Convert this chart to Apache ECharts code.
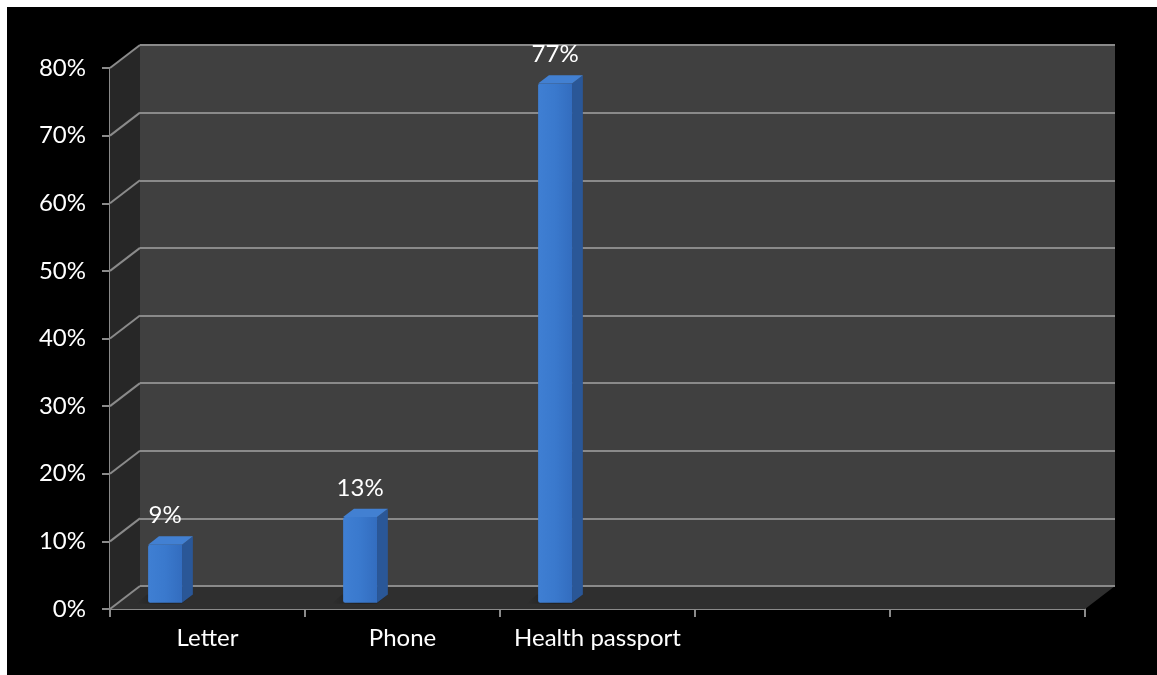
<!DOCTYPE html>
<html><head><meta charset="utf-8">
<script src="https://cdn.jsdelivr.net/npm/echarts@6/dist/echarts.min.js"></script>
<style>html,body{margin:0;padding:0;background:#000;overflow:hidden;}#c{position:absolute;left:0;top:0;width:1157px;height:675px;box-sizing:border-box;border-left:7px solid #fff;border-top:7px solid #fff;background:#000;}</style>
</head><body><div id="c"></div><script>
// ---- data ----
const categories = ['Letter', 'Phone', 'Health passport', '', ''];
const values = [0.086, 0.127, 0.768];
const yTicks = [0, 0.1, 0.2, 0.3, 0.4, 0.5, 0.6, 0.7, 0.8];

// ---- style constants ----
const DX = 30, DY = -23;          // depth offset of back wall
const GRID = '#8a8a8a';
const FONT = 'Lato';
const chart = echarts.init(document.getElementById('c'), null, {renderer: 'canvas'});

function pct(v) { return Math.round(v * 100) + '%'; }

function renderWalls(params, api) {
  const bw = api.size([1, 0])[0];
  const left = api.coord([0, 0])[0] - bw / 2;
  const right = api.coord([categories.length - 1, 0])[0] + bw / 2;
  const y0 = api.coord([0, 0])[1];
  const yTop = api.coord([0, yTicks[yTicks.length - 1]])[1];
  const children = [];
  children.push({type: 'polygon', shape: {points: [[left, yTop], [left + DX, yTop + DY], [left + DX, y0 + DY], [left, y0]]},
    style: {fill: '#272727'}});
  children.push({type: 'polygon', shape: {points: [[left, y0], [right, y0], [right + DX, y0 + DY], [left + DX, y0 + DY]]},
    style: {fill: '#2f2f2f'}});
  children.push({type: 'line', shape: {x1: left + DX, y1: y0 + DY, x2: right + DX, y2: y0 + DY}, style: {stroke: GRID, lineWidth: 2}});
  yTicks.forEach(function (t) {
    const y = api.coord([0, t])[1];
    children.push({type: 'line', shape: {x1: left, y1: y, x2: left + DX, y2: y + DY}, style: {stroke: GRID, lineWidth: 2}});
  });
  return {type: 'group', children: children};
}

function renderBar(params, api) {
  const i = api.value(0), v = api.value(1);
  const bw = api.size([1, 0])[0];
  const c0 = api.coord([i, 0]);
  const c1 = api.coord([i, v]);
  const f0 = 0.27, depth = 0.36;
  const x0 = c0[0] - bw / 2 + 0.154 * bw + f0 * DX;
  const w = 0.174 * bw;
  const yb = c0[1] + f0 * DY;
  const yt = c1[1] + f0 * DY;
  const ddx = depth * DX, ddy = depth * DY;
  return {type: 'group', children: [
    {type: 'polygon', shape: {points: [[x0 - 12, yb + 1], [x0 + w, yb + 1], [x0 + w + ddx, yb + ddy], [x0 - 12 + ddx, yb + ddy]]},
      style: {fill: new echarts.graphic.LinearGradient(0, 0, 1, 0, [{offset: 0, color: 'rgba(0,0,0,0)'}, {offset: 0.5, color: 'rgba(0,0,0,0.35)'}, {offset: 1, color: 'rgba(0,0,0,0.1)'}])}},
    {type: 'polygon', shape: {points: [[x0 + w, yt], [x0 + w + ddx, yt + ddy], [x0 + w + ddx, yb + ddy], [x0 + w, yb]]},
      style: {fill: '#2a5797'}},
    {type: 'polygon', shape: {points: [[x0, yt], [x0 + ddx, yt + ddy], [x0 + w + ddx, yt + ddy], [x0 + w, yt]]},
      style: {fill: '#4280d2'}},
    {type: 'rect', shape: {x: x0, y: yt, width: w, height: yb - yt, r: [2, 0, 0, 2]},
      style: {fill: new echarts.graphic.LinearGradient(0, 0, 1, 0, [
        {offset: 0, color: '#3f7fd3'}, {offset: 0.5, color: '#3a79cd'}, {offset: 1, color: '#336dbf'}])}},
    {type: 'text', x: x0 + w / 2, y: yt - 29,
      style: {text: pct(v), fill: '#fff', font: '24px ' + FONT, align: 'center', verticalAlign: 'middle'}}
  ]};
}

const option = {
  backgroundColor: '#000',
  animation: false,
  grid: [
    {left: 103, right: 72, top: 61, bottom: 66, containLabel: false},
    {left: 103 + DX, right: 72 - DX, top: 61 + DY, bottom: 66 - DY, show: true, backgroundColor: '#404040', borderWidth: 0}
  ],
  xAxis: [
    {type: 'category', gridIndex: 0, data: categories, boundaryGap: true,
      axisLine: {show: true, lineStyle: {color: GRID, width: 2}},
      axisTick: {show: true, length: 8, alignWithLabel: false, lineStyle: {color: GRID, width: 2}},
      axisLabel: {color: '#fff', fontFamily: FONT, fontSize: 24, margin: 17, interval: 0}},
    {type: 'category', gridIndex: 1, data: categories, show: false}
  ],
  yAxis: [
    {type: 'value', gridIndex: 0, min: 0, max: 0.8, interval: 0.1,
      axisLine: {show: true, lineStyle: {color: GRID, width: 2}},
      axisTick: {show: true, length: 8, lineStyle: {color: GRID, width: 2}},
      axisLabel: {color: '#fff', fontFamily: FONT, fontSize: 24, margin: 24, formatter: pct},
      splitLine: {show: false}},
    {type: 'value', gridIndex: 1, min: 0, max: 0.8, interval: 0.1,
      axisLine: {show: false}, axisTick: {show: false}, axisLabel: {show: false},
      splitLine: {show: true, lineStyle: {color: GRID, width: 2}}}
  ],
  series: [
    {type: 'custom', name: 'walls', xAxisIndex: 0, yAxisIndex: 0, z: 1, clip: false, silent: true,
      renderItem: renderWalls, data: [[0, 0]]},
    {type: 'custom', name: 'share', xAxisIndex: 0, yAxisIndex: 0, z: 3, clip: false,
      renderItem: renderBar, encode: {x: 0, y: 1},
      data: values.map(function (v, i) { return [i, v]; })}
  ]
};
chart.setOption(option);
</script></body></html>
